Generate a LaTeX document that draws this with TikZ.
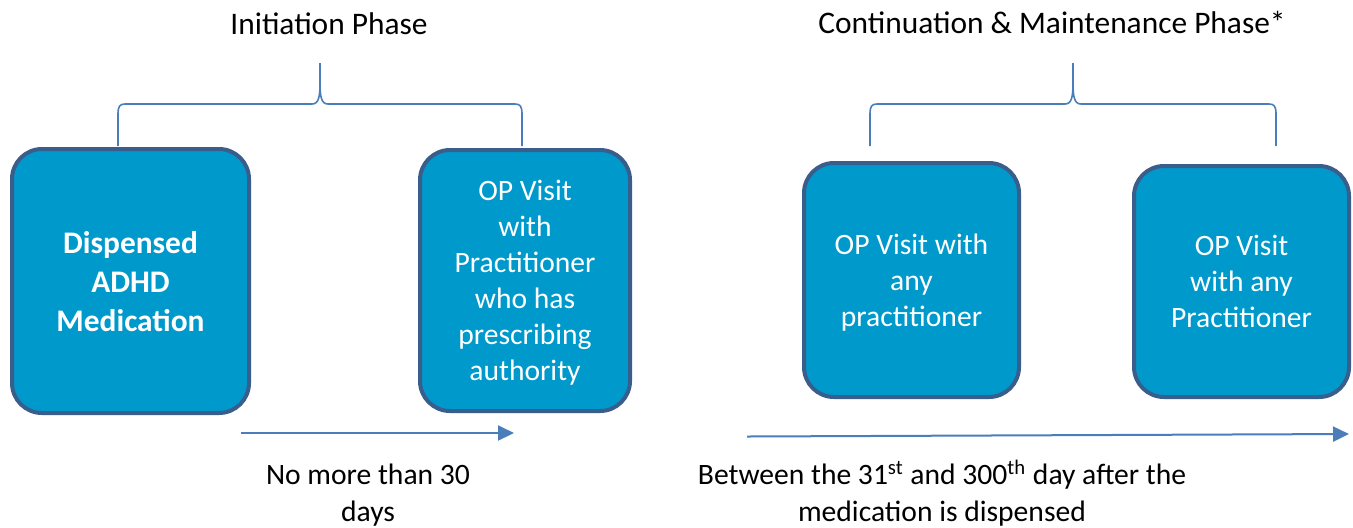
\documentclass[tikz,border=0pt]{standalone}
\usepackage{fontspec}
\setmainfont{Carlito}
\usetikzlibrary{arrows.meta}
\definecolor{relleno}{HTML}{0099CC}
\definecolor{borde}{HTML}{3A5E8C}
\definecolor{linea}{HTML}{4A7EBB}
\tikzset{
  caja/.style={draw=borde,fill=relleno,line width=2pt,rounded corners=15pt,text=white,align=center,inner sep=0pt,text depth=0pt,font=\fontsize{14.8pt}{18pt}\selectfont},
  texto/.style={align=center,inner sep=0pt,font=\fontsize{14.8pt}{18.5pt}\selectfont},
  flecha/.style={draw=linea,line width=1pt,-{Triangle[length=8pt,width=7.5pt]}},
  pics/llave/.style={
     code={
        \def\ancho{#1}
        \draw[linea,line width=0.8pt] (-\ancho,42) -- (-\ancho,10) .. controls (-\ancho,2) and (-\ancho+2,0) .. (-\ancho+7,0) -- (-8,0) .. controls (-1,0) and (0,-8) .. (0,-22) -- (0,-41);
        \draw[linea,line width=0.8pt] (0,-22) .. controls (0,-8) and (1,0) .. (8,0) -- (\ancho-7,0) .. controls (\ancho-2,0) and (\ancho,2) .. (\ancho,10) -- (\ancho,42);
     }
  }
}
\begin{document}
\begin{tikzpicture}[x=0.5pt,y=-0.5pt]
        \useasboundingbox (0,0) rectangle (1353,527);
        \node[texto,font=\fontsize{15.7pt}{18.5pt}\selectfont] (fase1) at (329,24) {Initiation Phase};
        \node[texto,font=\fontsize{15.7pt}{18.5pt}\selectfont] (fase2) at (1052,22) {Continuation \& Maintenance Phase*};
        \draw (320,104) pic{llave=202};
        \draw (1073,104) pic{llave=203};
        \node[caja,minimum width=118.5pt,minimum height=132pt,font=\fontsize{15.7pt}{19.5pt}\selectfont\bfseries] (medicacion) at (130.5,281) {Dispensed\\ADHD\\Medication};
        \node[caja,minimum width=105pt,minimum height=130.5pt] (visita1) at (525,280.5) {OP Visit\\with\\Practitioner\\who has\\prescribing\\authority};
        \node[caja,minimum width=107.5pt,minimum height=117pt] (visita2) at (911.5,280) {OP Visit with\\any\\practitioner};
        \node[caja,minimum width=107.5pt,minimum height=115.5pt] (visita3) at (1241.5,281.5) {OP Visit\\with any\\Practitioner};
        \coordinate (ini1) at (241,433);
        \coordinate (fin1) at (514,433);
        \coordinate (ini2) at (747,436.5);
        \coordinate (fin2) at (1349,434);
        \draw[flecha] (ini1) -- (fin1);
        \draw[flecha] (ini2) -- (fin2);
        \node[texto] (plazo1) at (368,495) {No more than 30\\days};
        \node[texto] (plazo2) at (942,493) {Between the 31\textsuperscript{st} and 300\textsuperscript{th} day after the\\medication is dispensed};
\end{tikzpicture}
\end{document}
